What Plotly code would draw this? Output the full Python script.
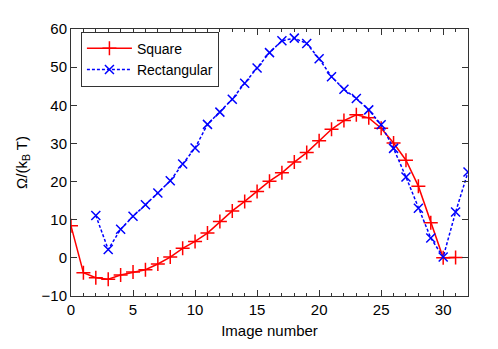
import plotly.graph_objects as go

# Square image series (x = image number)
square_x = list(range(0, 32))
square_y = [8.4, -3.9, -5.2, -5.6, -4.5, -3.7, -3.1, -1.6, 0.2, 2.5,
            4.3, 6.5, 9.5, 12.3, 14.8, 17.4, 20.1, 22.3, 25.1, 27.6,
            30.7, 33.7, 36.0, 37.5, 36.7, 34.0, 30.1, 25.6, 18.8, 9.2,
            0.0, 0.1]

# Rectangular image series
rect_x = list(range(2, 33))
rect_y = [11.1, 2.2, 7.5, 10.9, 13.9, 17.0, 20.2, 24.6, 28.8, 35.0,
          38.2, 41.6, 45.8, 49.8, 53.8, 56.9, 57.6, 56.2, 52.2, 47.5,
          44.2, 41.8, 38.8, 34.9, 28.7, 21.2, 13.0, 5.2, 0.2, 12.0,
          22.5]

fig = go.Figure()

fig.add_trace(go.Scatter(
    x=square_x, y=square_y, mode="lines+markers", name="Square",
    line=dict(color="#ff0000", width=1.5),
    marker=dict(symbol="cross-thin", size=10, line=dict(color="#ff0000", width=1.5)),
))

fig.add_trace(go.Scatter(
    x=rect_x, y=rect_y, mode="lines+markers", name="Rectangular",
    line=dict(color="#0000ff", width=1.5, dash="3px,2px"),
    marker=dict(symbol="x-thin", size=9, line=dict(color="#0000ff", width=1.5)),
))

axis_common = dict(
    showline=True, linecolor="#333333", linewidth=1, mirror="allticks",
    ticks="inside", tickcolor="#333333", ticklen=6, showgrid=False, zeroline=False,
    tickfont=dict(size=15, color="black"),
)

fig.update_xaxes(
    range=[0, 32], dtick=5, tick0=0,
    minor=dict(ticks="inside", dtick=1, ticklen=3, tickcolor="#333333"),
    title=dict(text="Image number", font=dict(size=15, color="black"), standoff=8),
    **axis_common,
)
fig.update_yaxes(
    range=[-10, 60], dtick=10, tick0=0,
    title=dict(text="Ω/(k<sub>B</sub> T)", font=dict(size=15, color="black"), standoff=10),
    **axis_common,
)

# the page body adds an 8px offset, so margins are trimmed to match
fig.update_layout(
    width=498, height=349,
    margin=dict(l=63, r=38, t=12, b=61),
    paper_bgcolor="white", plot_bgcolor="white",
    font=dict(family="Liberation Sans, Arial, sans-serif", size=15, color="black"),
    showlegend=True,
    legend=dict(
        x=0.025, y=0.99, xanchor="left", yanchor="top",
        bgcolor="white", bordercolor="#333333", borderwidth=1,
        font=dict(size=14), itemwidth=45, tracegroupgap=0,
    ),
)

fig.write_html("out.html")
